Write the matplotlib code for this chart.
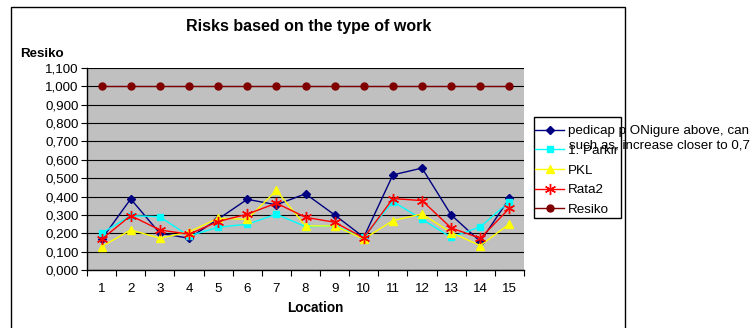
import matplotlib
matplotlib.use("Agg")
import matplotlib.pyplot as plt
from matplotlib.patches import Rectangle
import numpy as np

plt.rcParams['font.family'] = ['Liberation Sans', 'DejaVu Sans']

categories = [str(i) for i in range(1, 16)]
pedicap = [0.167, 0.387, 0.200, 0.173, 0.277, 0.385, 0.355, 0.415, 0.300, 0.178, 0.518, 0.555, 0.300, 0.155, 0.390]
parkir = [0.200, 0.296, 0.290, 0.185, 0.233, 0.249, 0.304, 0.236, 0.240, 0.178, 0.373, 0.276, 0.178, 0.235, 0.373]
pkl = [0.127, 0.218, 0.173, 0.207, 0.282, 0.276, 0.433, 0.240, 0.240, 0.169, 0.269, 0.305, 0.204, 0.133, 0.251]
rata2 = [0.167, 0.296, 0.218, 0.195, 0.264, 0.304, 0.364, 0.287, 0.260, 0.175, 0.389, 0.378, 0.229, 0.173, 0.336]
resiko = [1.0] * 15
series_labels = ["pedicap p ONigure above, can", "1. Parkir", "PKL", "Rata2", "Resiko"]
extra_label_line = "such as, increase closer to 0,7"
y_ticks = [i / 10 for i in range(12)]

W, H = 752, 328
def px(x):
    return x / W
def py(y):
    return 1 - y / H

fig = plt.figure(figsize=(W / 100, H / 100), dpi=100)
fig.patch.set_facecolor('white')

# outer chart border
fig.add_artist(Rectangle((px(11), py(335)), px(625) - px(11), py(7) - py(335),
                         transform=fig.transFigure, fill=False, edgecolor='black', linewidth=1.0))

ax = fig.add_axes([px(87), py(270), px(524) - px(87), py(68) - py(270)])
ax.set_facecolor('#C0C0C0')
x = np.arange(len(categories))

lines = []
lines += ax.plot(x, pedicap, color='#000080', marker='D', markersize=4, linewidth=1, label=series_labels[0])
lines += ax.plot(x, parkir, color='#00FFFF', marker='s', markersize=5, linewidth=1, label=series_labels[1])
lines += ax.plot(x, pkl, color='#FFFF00', marker='^', markersize=6, linewidth=1, label=series_labels[2])
lines += ax.plot(x, rata2, color='#FF0000', marker=(6, 2, 0), markersize=8, markeredgewidth=1, linewidth=1, label=series_labels[3])
lines += ax.plot(x, resiko, color='#800000', marker='o', markersize=5, linewidth=1, label=series_labels[4])

ax.set_xlim(-0.5, len(categories) - 0.5)
ax.set_ylim(0, 1.1)
ax.set_yticks(y_ticks)
ax.set_yticklabels([f"{v:.3f}".replace('.', ',') for v in y_ticks], fontsize=9.6)
ax.set_xticks(np.arange(-0.5, len(categories), 1))
ax.set_xticklabels([])
ax.set_xticks(x, minor=True)
ax.set_xticklabels(categories, minor=True, fontsize=9.6)
ax.tick_params(axis='x', which='major', direction='out', length=4, width=0.8)
ax.tick_params(axis='x', which='minor', length=0, pad=9)
ax.tick_params(axis='y', direction='out', length=4, width=0.8, pad=2)
ax.yaxis.grid(True, color='black', linewidth=0.8)
ax.set_axisbelow(True)
for s in ['top', 'right']:
    ax.spines[s].set_visible(False)
for s in ['left', 'bottom']:
    ax.spines[s].set_color('black')
    ax.spines[s].set_linewidth(1)

fig.text(px(309), py(27), "Risks based on the type of work", ha='center', va='center',
         fontsize=11.5, fontweight='bold')
fig.text(px(20), py(57), "Resiko", ha='left', va='baseline', fontsize=9.6, fontweight='bold')
fig.text(px(315), py(308), "Location", ha='center', va='center', fontsize=9.8, fontweight='bold')

# legend
fig.add_artist(Rectangle((px(534), py(218)), px(621) - px(534), py(117) - py(218),
                         transform=fig.transFigure, facecolor='white', edgecolor='black', linewidth=1.0))
leg = fig.legend(lines, series_labels, loc='upper left', bbox_to_anchor=(px(535), py(125)),
                 frameon=False, fontsize=9.6, borderaxespad=0, borderpad=0,
                 handlelength=2.2, handletextpad=0.25, labelspacing=0.55)
fig.text(px(569), py(145), extra_label_line, ha='left', va='center', fontsize=9.6)

fig.savefig("out.png", dpi=100)
